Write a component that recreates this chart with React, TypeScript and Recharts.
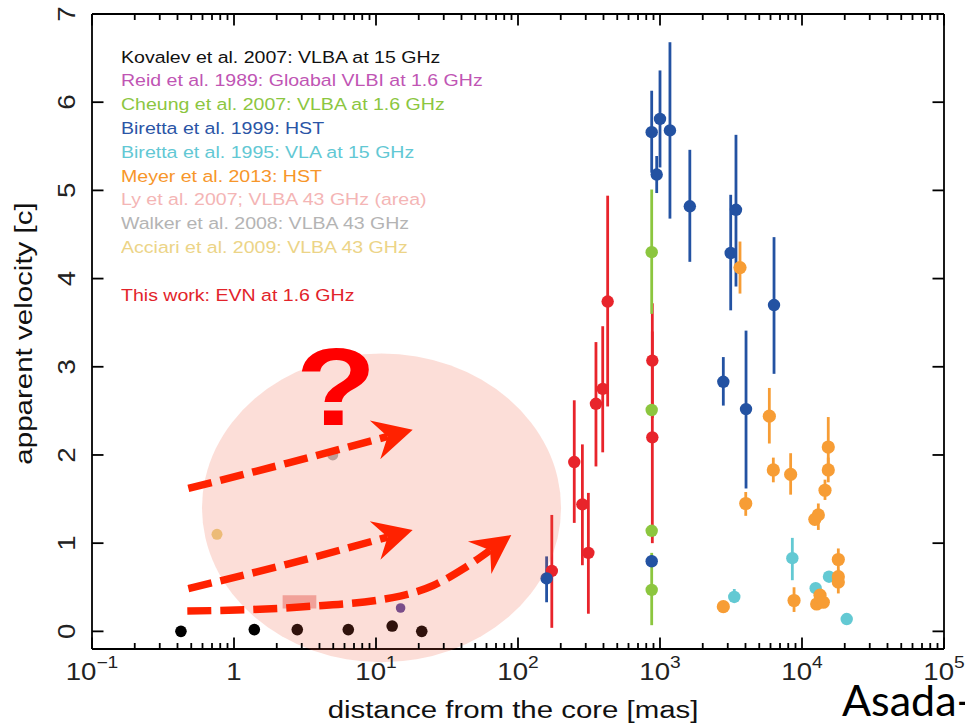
import {
  ScatterChart,
  Scatter,
  XAxis,
  YAxis,
  ErrorBar,
  ReferenceArea,
  ReferenceDot,
  Legend,
} from "recharts";

// apparent velocity vs distance from the core (M87 jet compilation)

const FONT = '"Liberation Sans", Arial, Helvetica, sans-serif';
const STRETCH = 1.2; // the original typeface is wider than Arial

// Kovalev et al. 2007: VLBA at 15 GHz
const kovalevX = [0.423, 1.39, 2.79, 6.38, 13.0, 21.0];
const kovalevY = [0.0, 0.02, 0.02, 0.02, 0.06, 0.0];

// Reid et al. 1989
const reidX = [14.9];
const reidY = [0.265];

// Cheung et al. 2007
const cheungX = [874, 874, 874, 874];
const cheungY = [4.3, 2.51, 1.14, 0.47];
const cheungLo = [3.6, 2.51, 1.14, 0.07];
const cheungHi = [5.01, 2.51, 1.14, 0.89];

// Biretta et al. 1999: HST
const biretta99X = [874, 1000, 948, 1175, 1622, 3147, 3428, 6353, 2792, 4035, 159, 874];
const biretta99Y = [5.66, 5.81, 5.18, 5.68, 4.82, 4.29, 4.78, 3.7, 2.83, 2.52, 0.6, 0.795];
const biretta99Lo = [5.2, 5.26, 4.97, 4.68, 4.19, 3.64, 3.91, 2.92, 2.56, 1.62, 0.33, 0.74];
const biretta99Hi = [6.13, 6.36, 5.39, 6.68, 5.46, 4.95, 5.63, 4.47, 3.11, 3.41, 0.85, 0.86];

// Biretta et al. 1995: VLA
const biretta95X = [8550, 3335, 15490, 12480, 20650];
const biretta95Y = [0.83, 0.39, 0.62, 0.49, 0.14];
const biretta95Lo = [0.58, 0.33, 0.62, 0.49, 0.14];
const biretta95Hi = [1.06, 0.48, 0.62, 0.49, 0.14];

// Meyer et al. 2013: HST
const meyerX = [3659, 5888, 6281, 8318, 15310, 15310, 14520, 13030, 12310, 4016, 18020, 18020, 18020, 8790, 13390, 12690, 14130, 2792];
const meyerY = [4.125, 2.44, 1.83, 1.78, 2.09, 1.83, 1.6, 1.32, 1.27, 1.45, 0.815, 0.62, 0.56, 0.35, 0.41, 0.31, 0.33, 0.28];
const meyerLo = [3.83, 2.13, 1.69, 1.55, 1.83, 1.69, 1.49, 1.15, 1.27, 1.31, 0.69, 0.5, 0.43, 0.22, 0.41, 0.31, 0.33, 0.28];
const meyerHi = [4.42, 2.76, 1.97, 2.02, 2.43, 1.97, 1.72, 1.45, 1.27, 1.58, 0.94, 0.7, 0.6, 0.5, 0.41, 0.31, 0.33, 0.28];

// Ly et al. 2007 (area), Walker et al. 2008, Acciari et al. 2009
const lyAreaX = [2.2, 3.8];
const lyAreaY = [0.26, 0.41];
const walkerX = [4.96];
const walkerY = [2.0];
const acciariX = [0.759];
const acciariY = [1.1];

// This work: EVN at 1.6 GHz
const thisWorkX = [173, 249, 284, 313, 354, 395, 428, 883, 883];
const thisWorkY = [0.685, 1.92, 1.44, 0.89, 2.58, 2.75, 3.74, 3.07, 2.2];
const thisWorkLo = [0.04, 1.23, 0.75, 0.2, 1.87, 2.03, 2.55, 2.42, 1.0];
const thisWorkHi = [1.32, 2.62, 2.12, 1.57, 3.28, 3.46, 4.94, 3.72, 3.4];

// slide annotations (data coordinates)
const highlightX = [0.595, 201];
const highlightY = [-0.35, 3.15];
const arrowTopX = [0.477, 2.35, 12.07];
const arrowTopY = [1.62, 1.905, 2.21];
const arrowMidX = [0.477, 2.35, 12.07];
const arrowMidY = [0.485, 0.76, 1.07];
const arrowLowX = [0.469, 2.92, 14.8, 25.3, 41.2, 63.7];
const arrowLowY = [0.23, 0.276, 0.4, 0.52, 0.71, 0.92];
const questionX = 5.23;
const questionY = 2.34;

// axes
const X_DECADES = [0.1, 1, 10, 100, 1000, 10000, 100000];
const X_MINOR = [2, 3, 4, 5, 6, 7, 8, 9];
const X_TICKS = [
  ...X_DECADES,
  ...X_DECADES.slice(0, -1).flatMap((d) => X_MINOR.map((m) => d * m)),
].sort((a, b) => a - b);
const Y_TICKS = [0, 1, 2, 3, 4, 5, 6, 7];

const LEGEND_LABELS = [
  "Kovalev et al. 2007: VLBA at 15 GHz",
  "Reid et al. 1989: Gloabal VLBI at 1.6 GHz",
  "Cheung et al. 2007: VLBA at 1.6 GHz",
  "Biretta et al. 1999: HST",
  "Biretta et al. 1995: VLA at 15 GHz",
  "Meyer et al. 2013: HST",
  "Ly et al. 2007; VLBA 43 GHz (area)",
  "Walker et al. 2008: VLBA 43 GHz",
  "Acciari et al. 2009: VLBA 43 GHz",
  "This work: EVN at 1.6 GHz",
];
const LEGEND_COLORS = [
  "#111111",
  "#c055b4",
  "#8cc63f",
  "#2a55a6",
  "#62c8d4",
  "#f7962a",
  "#f4b5b5",
  "#b4b4b4",
  "#ecd487",
  "#e2232a",
];

const C = {
  black: "#000000",
  purple: "#5d4a9e",
  green: "#8cc63f",
  blue: "#2352a2",
  cyan: "#63c9d3",
  orange: "#f79d35",
  red: "#e8242b",
  gray: "#b0b0b0",
  yellow: "#ecd487",
  lyArea: "#f2b3b1",
  arrow: "#ff2200",
};

const toPoints = (xs: number[], ys: number[], lo?: number[], hi?: number[]) =>
  xs.map((x, i) => ({
    x,
    y: ys[i],
    err: [lo ? ys[i] - lo[i] : 0, hi ? hi[i] - ys[i] : 0],
  }));

const kovalevData = toPoints(kovalevX, kovalevY);
const reidData = toPoints(reidX, reidY);
const cheungData = toPoints(cheungX, cheungY, cheungLo, cheungHi);
const biretta99Data = toPoints(biretta99X, biretta99Y, biretta99Lo, biretta99Hi);
const biretta95Data = toPoints(biretta95X, biretta95Y, biretta95Lo, biretta95Hi);
const meyerData = toPoints(meyerX, meyerY, meyerLo, meyerHi);
const walkerData = toPoints(walkerX, walkerY);
const acciariData = toPoints(acciariX, acciariY);
const thisWorkData = toPoints(thisWorkX, thisWorkY, thisWorkLo, thisWorkHi);
const arrowTop = toPoints(arrowTopX, arrowTopY);
const arrowMid = toPoints(arrowMidX, arrowMidY);
const arrowLow = toPoints(arrowLowX, arrowLowY);

const dot = (r: number, fill: string) => (p: any) => <circle cx={p.cx} cy={p.cy} r={r} fill={fill} />;
const noDot = () => <g />;

// inward ticks on all four sides: short ones on every x tick, long ones on decades
const MINOR = 6;
const MAJOR = 11.5;
const TICK_W = 1.8;
const AXIS_Y0 = 649; // bottom edge of the plot frame
const AXIS_TOP = 14;

function BottomTick({ x, payload }: any) {
  const v = payload.value;
  const major = X_DECADES.includes(v);
  const exp = Math.round(Math.log10(v));
  return (
    <g>
      <rect x={x - TICK_W / 2} y={AXIS_Y0 - (major ? MAJOR : MINOR)} width={TICK_W} height={major ? MAJOR : MINOR} fill="#000" />
      {major && (
        <text
          transform={`translate(${x},${AXIS_Y0 + 30.5}) scale(${STRETCH},1)`}
          textAnchor="middle"
          fontFamily={FONT}
          fontSize={23}
          fill="#222"
        >
          {exp === 0 ? (
            "1"
          ) : (
            <>
              10
              <tspan dy={-11.5} fontSize={16}>
                {exp < 0 ? `\u2212${-exp}` : exp}
              </tspan>
            </>
          )}
        </text>
      )}
    </g>
  );
}

function TopTick({ x, payload }: any) {
  const major = X_DECADES.includes(payload.value);
  return <rect x={x - TICK_W / 2} y={AXIS_TOP} width={TICK_W} height={major ? MAJOR : MINOR} fill="#000" />;
}

function LeftTick({ y, payload }: any) {
  return (
    <g>
      <rect x={92} y={y - TICK_W / 2} width={MAJOR} height={TICK_W} fill="#000" />
      <text
        transform={`translate(75,${y}) rotate(-90) scale(${STRETCH},1)`}
        textAnchor="middle"
        fontFamily={FONT}
        fontSize={23}
        fill="#222"
      >
        {payload.value}
      </text>
    </g>
  );
}

function RightTick({ y }: any) {
  return <rect x={944 - MAJOR} y={y - TICK_W / 2} width={MAJOR} height={TICK_W} fill="#000" />;
}

function XTitle({ viewBox }: any) {
  const cx = viewBox.x + viewBox.width / 2 - 5;
  return (
    <text
      transform={`translate(${cx},${viewBox.y + 69}) scale(${STRETCH},1)`}
      textAnchor="middle"
      fontFamily={FONT}
      fontSize={24.5}
      fill="#111"
    >
      distance from the core [mas]
    </text>
  );
}

function YTitle({ viewBox }: any) {
  const cy = viewBox.y + viewBox.height / 2 + 2;
  return (
    <text
      transform={`translate(31.5,${cy}) rotate(-90) scale(${STRETCH},1)`}
      textAnchor="middle"
      fontFamily={FONT}
      fontSize={24.6}
      fill="#111"
    >
      apparent velocity [c]
    </text>
  );
}

function LegendText() {
  return (
    <div style={{ fontFamily: FONT, fontSize: 16.3, lineHeight: "23.8px", whiteSpace: "nowrap" }}>
      {LEGEND_LABELS.map((label, i) => (
        <div
          key={label}
          style={{
            color: LEGEND_COLORS[i],
            transform: `scaleX(${STRETCH})`,
            transformOrigin: "0 0",
            marginTop: i === LEGEND_LABELS.length - 1 ? 23.8 : 0,
          }}
        >
          {label}
        </div>
      ))}
    </div>
  );
}

const ellipseShape = (p: any) => (
  <ellipse
    cx={p.x + p.width / 2}
    cy={p.y + p.height / 2}
    rx={p.width / 2}
    ry={p.height / 2}
    fill="#f05a3c"
    fillOpacity={0.2}
  />
);

const questionShape = (p: any) => (
  <text
    transform={`translate(${p.cx},${p.cy}) scale(${STRETCH},1)`}
    textAnchor="middle"
    fontFamily={FONT}
    fontWeight="bold"
    fontSize={110}
    fill="#ff0000"
  >
    ?
  </text>
);

const arrowLine = {
  stroke: C.arrow,
  strokeWidth: 7.5,
  strokeDasharray: "24 9",
  markerEnd: "url(#slideArrowHead)",
};

const axisLine = { stroke: "#000", strokeWidth: 1.8 };

export default function App() {
  return (
    <div style={{ position: "absolute", left: 0, top: 0, width: 965, height: 725, overflow: "hidden", background: "#fff" }}>
      <ScatterChart width={965} height={725} margin={{ top: 13, right: 20, bottom: 0, left: 0 }}>
        <XAxis
          type="number"
          dataKey="x"
          scale="log"
          domain={[0.1, 100000]}
          allowDataOverflow
          ticks={X_TICKS}
          interval={0}
          height={76}
          tickLine={false}
          tick={<BottomTick />}
          axisLine={axisLine}
          label={<XTitle />}
        />
        <XAxis
          xAxisId="top"
          orientation="top"
          type="number"
          dataKey="x"
          scale="log"
          domain={[0.1, 100000]}
          allowDataOverflow
          ticks={X_TICKS}
          interval={0}
          height={1}
          tickLine={false}
          tick={<TopTick />}
          axisLine={axisLine}
        />
        <YAxis
          type="number"
          dataKey="y"
          domain={[-0.2, 7]}
          allowDataOverflow
          ticks={Y_TICKS}
          interval={0}
          width={92}
          tickLine={false}
          tick={<LeftTick />}
          axisLine={axisLine}
          label={<YTitle />}
        />
        <YAxis
          yAxisId="right"
          orientation="right"
          type="number"
          dataKey="y"
          domain={[-0.2, 7]}
          allowDataOverflow
          ticks={Y_TICKS}
          interval={0}
          width={1}
          tickLine={false}
          tick={<RightTick />}
          axisLine={axisLine}
        />

        <Legend
          layout="vertical"
          align="center"
          verticalAlign="middle"
          content={<LegendText />}
          wrapperStyle={{ left: 121, top: 45.7, width: 440 }}
        />

        <ReferenceArea
          x1={lyAreaX[0]}
          x2={lyAreaX[1]}
          y1={lyAreaY[0]}
          y2={lyAreaY[1]}
          fill={C.lyArea}
          fillOpacity={1}
          stroke="none"
          ifOverflow="visible"
        />

        <Scatter name="Kovalev" data={kovalevData} fill={C.black} shape={dot(5.8, C.black)} isAnimationActive={false} />
        <Scatter name="Reid" data={reidData} fill={C.purple} shape={dot(4.8, C.purple)} isAnimationActive={false} />
        <Scatter name="Walker" data={walkerData} fill={C.gray} shape={dot(5.5, C.gray)} isAnimationActive={false} />
        <Scatter name="Acciari" data={acciariData} fill={C.yellow} shape={dot(5.5, C.yellow)} isAnimationActive={false} />
        <Scatter name="This work" data={thisWorkData} fill={C.red} shape={dot(6.2, C.red)} isAnimationActive={false}>
          <ErrorBar dataKey="err" direction="y" width={0} stroke={C.red} strokeWidth={2.8} />
        </Scatter>
        <Scatter name="Cheung" data={cheungData} fill={C.green} shape={dot(6.2, C.green)} isAnimationActive={false}>
          <ErrorBar dataKey="err" direction="y" width={0} stroke={C.green} strokeWidth={2.8} />
        </Scatter>
        <Scatter name="Biretta 1999" data={biretta99Data} fill={C.blue} shape={dot(6.2, C.blue)} isAnimationActive={false}>
          <ErrorBar dataKey="err" direction="y" width={0} stroke={C.blue} strokeWidth={2.8} />
        </Scatter>
        <Scatter name="Biretta 1995" data={biretta95Data} fill={C.cyan} shape={dot(6.2, C.cyan)} isAnimationActive={false}>
          <ErrorBar dataKey="err" direction="y" width={0} stroke={C.cyan} strokeWidth={2.8} />
        </Scatter>
        <Scatter name="Meyer" data={meyerData} fill={C.orange} shape={dot(6.6, C.orange)} isAnimationActive={false}>
          <ErrorBar dataKey="err" direction="y" width={0} stroke={C.orange} strokeWidth={2.8} />
        </Scatter>

        <ReferenceArea
          x1={highlightX[0]}
          x2={highlightX[1]}
          y1={highlightY[0]}
          y2={highlightY[1]}
          ifOverflow="visible"
          shape={ellipseShape}
          zIndex={700}
        />

        <Scatter data={arrowTop} shape={noDot} line={arrowLine} lineJointType="monotoneX" isAnimationActive={false} zIndex={800} />
        <Scatter data={arrowMid} shape={noDot} line={arrowLine} lineJointType="monotoneX" isAnimationActive={false} zIndex={800} />
        <Scatter data={arrowLow} shape={noDot} line={arrowLine} lineJointType="monotoneX" isAnimationActive={false} zIndex={800} />

        <ReferenceDot x={questionX} y={questionY} r={1} ifOverflow="visible" shape={questionShape} zIndex={900} />
      </ScatterChart>

      <svg width={965} height={725} style={{ position: "absolute", left: 0, top: 0, pointerEvents: "none" }}>
        <defs>
          <marker
            id="slideArrowHead"
            viewBox="-40 -22 44 44"
            markerWidth={44}
            markerHeight={44}
            refX={-26}
            refY={0}
            markerUnits="userSpaceOnUse"
            orient="auto"
          >
            <path d="M0,0 L-39,-20 L-26,0 L-39,20 Z" fill={C.arrow} />
          </marker>
        </defs>
        <text x={842} y={716} fontFamily="Lato, 'Open Sans', sans-serif" fontSize={43} fill="#000">
          Asada-
        </text>
      </svg>
    </div>
  );
}
